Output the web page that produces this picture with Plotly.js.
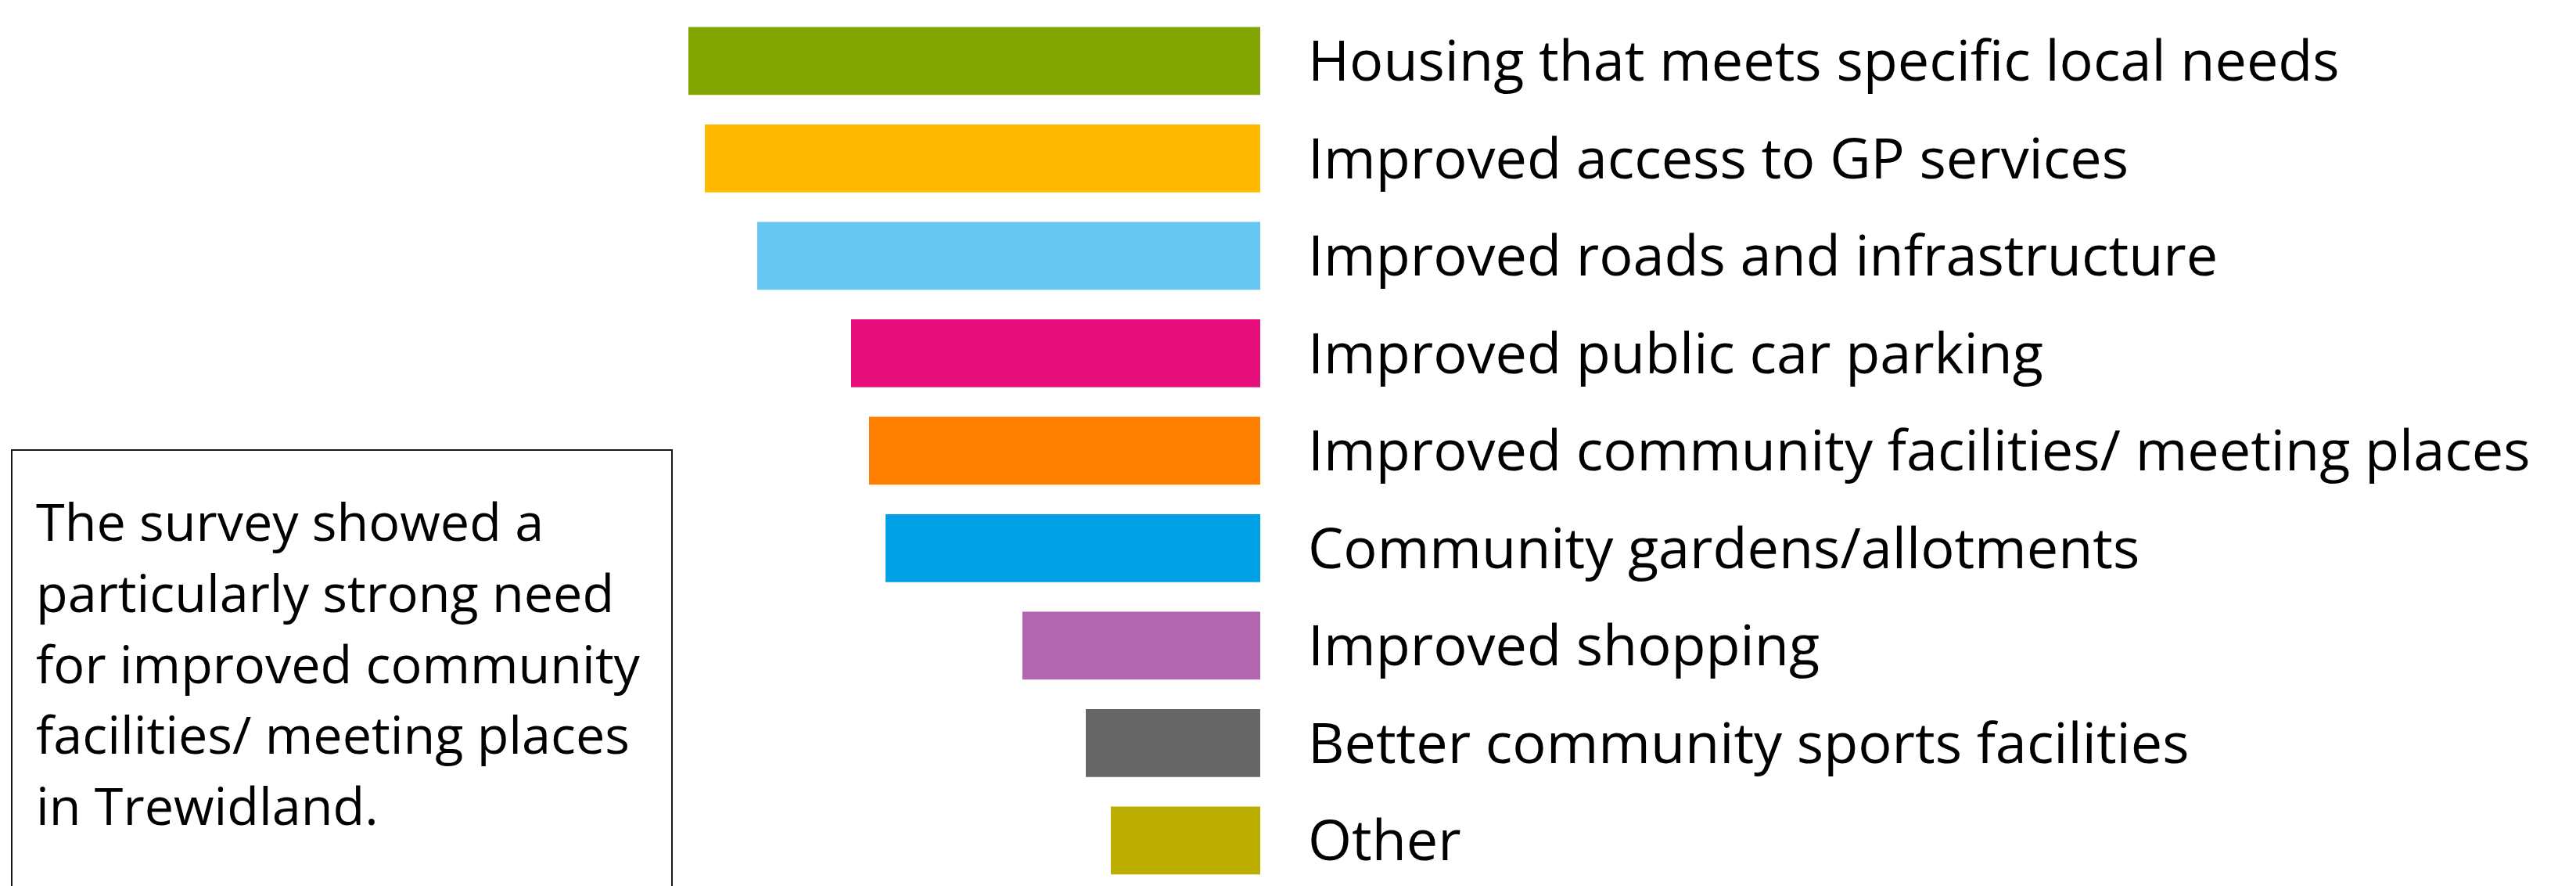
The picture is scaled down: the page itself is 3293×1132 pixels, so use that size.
<!DOCTYPE html>
<html>
<head>
<meta charset="utf-8">
<script src="https://cdn.plot.ly/plotly-3.0.1.min.js"></script>
<style>html,body{margin:0;padding:0;background:#fff;}#chart{width:3293px;height:1132px;}</style>
</head>
<body>
<div id="chart"></div>
<script>
const categories = [
  "Housing that meets specific local needs",
  "Improved access to GP services",
  "Improved roads and infrastructure",
  "Improved public car parking",
  "Improved community facilities/ meeting places",
  "Community gardens/allotments",
  "Improved shopping",
  "Better community sports facilities",
  "Other"
];
const values = [73.1, 71.0, 64.3, 52.3, 50.0, 47.9, 30.4, 22.3, 19.1];
const barColors = ["#82A500", "#FFB900", "#68C7F2", "#E60E7B", "#FF7F00", "#00A1E4", "#B366B0", "#666666", "#BCAE00"];
const noteLines = [
  "The survey showed a",
  "particularly strong need",
  "for improved community",
  "facilities/ meeting places",
  "in Trewidland."
];

const W = 3293, H = 1132;
const trace = {
  type: "bar",
  orientation: "h",
  x: values,
  y: categories,
  marker: {color: barColors, line: {width: 0}},
  width: 0.696,
  hoverinfo: "none",
  showlegend: false
};
const lineCenters = [665, 756, 847, 937, 1028];
const noteAnnotations = noteLines.map((t, i) => ({
  xref: "paper", yref: "paper",
  x: 44 / W, y: 1 - lineCenters[i] / H,
  xanchor: "left", yanchor: "middle",
  align: "left", showarrow: false,
  text: t,
  font: {family: "Open Sans", size: 66.5, color: "#000000"}
}));
const layout = {
  width: W, height: H,
  margin: {l: 0, r: 0, t: 0, b: 0, pad: 0},
  paper_bgcolor: "#ffffff",
  plot_bgcolor: "#ffffff",
  font: {family: "Open Sans", color: "#000000"},
  xaxis: {
    domain: [0, 1611 / W],
    range: [161.1, 0],
    showgrid: false, zeroline: false, showline: false,
    showticklabels: false, ticks: ""
  },
  yaxis: {
    type: "category",
    side: "right",
    range: [8.467, -0.625],
    showgrid: false, zeroline: false, showline: false,
    ticks: "",
    ticklabelstandoff: 60,
    tickfont: {family: "Open Sans", size: 72, color: "#000000"}
  },
  shapes: [{
    type: "rect", xref: "paper", yref: "paper",
    x0: 15 / W, x1: 859 / W, y0: -0.05, y1: 1 - 575 / H,
    line: {color: "#1a1a1a", width: 2}, fillcolor: "rgba(0,0,0,0)"
  }],
  annotations: noteAnnotations
};
Plotly.newPlot("chart", [trace], layout, {staticPlot: true, displayModeBar: false});
</script>
</body>
</html>
